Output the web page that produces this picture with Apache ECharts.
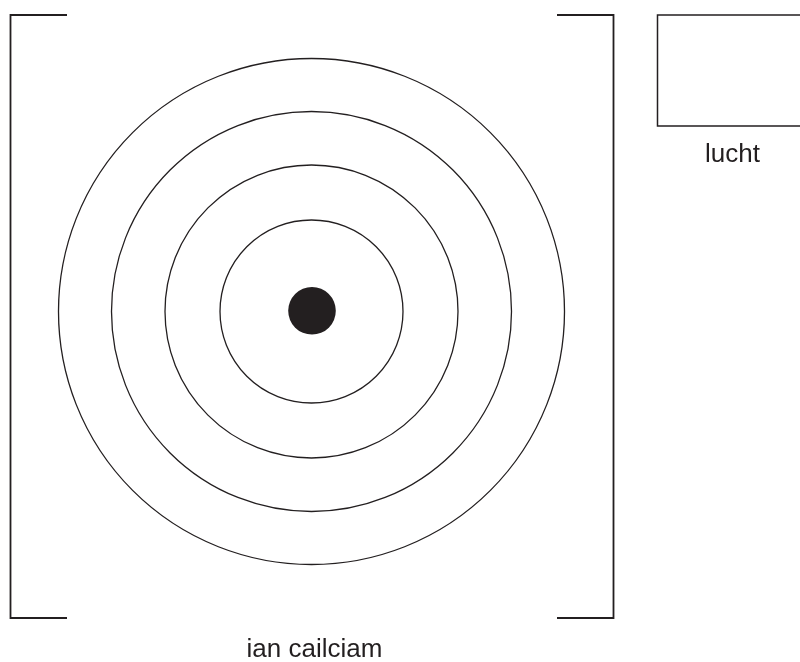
<!DOCTYPE html>
<html>
<head>
<meta charset="utf-8">
<title>ian cailciam</title>
<script src="https://cdn.jsdelivr.net/npm/echarts@6/dist/echarts.min.js"></script>
<style>
  html, body { margin: 0; padding: 0; background: #fff; }
  #main { width: 800px; height: 662px; }
</style>
</head>
<body>
<div id="main"></div>
<script>
// shapes in pixel units (axis 0..800 x 0..662, y going down)
let leftBracket = [[67, 15], [10.5, 15], [10.5, 618], [67, 618]];
let rightBracket = [[557, 15], [613.5, 15], [613.5, 618], [557, 618]];
let airBox = [[805, 15], [657.5, 15], [657.5, 126], [805, 126]];

let ringCenter = [311.5, 311.5];
let ringRadii = [91.5, 146.5, 200, 253];
let dotRadius = 23.8;
let dotCenter = [312, 310.8];

let labelTexts = ['lucht', 'ian cailciam'];
let labelPoints = [[732.5, 155], [314.5, 650]];

let chart = echarts.init(document.getElementById('main'));

let ink = '#231f20';

function bracketSeries(points, w) {
  return {
    type: 'line',
    data: points,
    symbol: 'none',
    silent: true,
    animation: false,
    lineStyle: { color: ink, width: w, join: 'miter', cap: 'butt', opacity: 1 }
  };
}

//同心圆
let rings = ringRadii.map(function(r) {
  return { value: ringCenter, symbolSize: r * 2 };
});

let option = {
  animation: false,
  grid: { left: 0, top: 0, right: 0, bottom: 0 },
  xAxis: { type: 'value', min: 0, max: 800, show: false },
  yAxis: { type: 'value', min: 0, max: 662, inverse: true, show: false },
  series: [
    bracketSeries(leftBracket, 1.8),
    bracketSeries(rightBracket, 1.8),
    bracketSeries(airBox, 1.5),
    {
      type: 'scatter',
      data: rings,
      symbol: 'circle',
      silent: true,
      itemStyle: { color: 'rgba(0,0,0,0)', borderColor: ink, borderWidth: 1.3, opacity: 1 }
    },
    {
      type: 'scatter',
      data: [dotCenter],
      symbol: 'circle',
      symbolSize: dotRadius * 2,
      silent: true,
      itemStyle: { color: ink, opacity: 1 }
    },
    {
      type: 'scatter',
      data: labelPoints.map(function(p, i) {
        return { name: labelTexts[i], value: p };
      }),
      symbolSize: 0,
      silent: true,
      itemStyle: { opacity: 1 },
      label: {
        show: true,
        position: 'inside',
        formatter: '{b}',
        color: ink,
        fontFamily: 'Liberation Sans, Arial, sans-serif',
        fontSize: 26
      }
    }
  ]
};

chart.setOption(option);
</script>
</body>
</html>
